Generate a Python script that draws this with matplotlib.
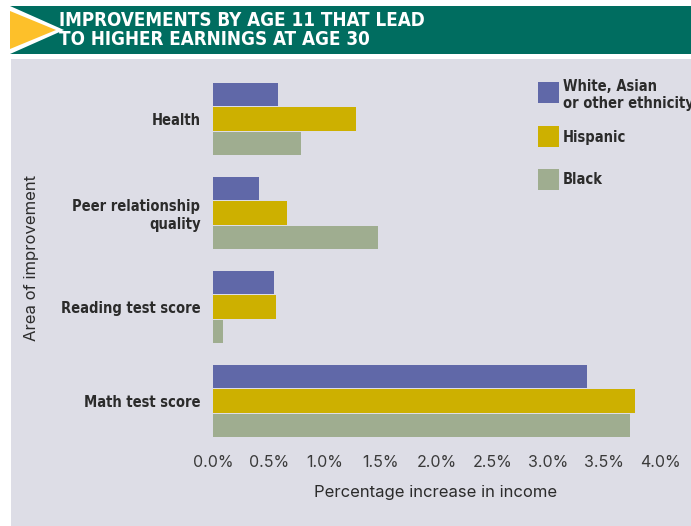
import os
import numpy as np
import matplotlib.pyplot as plt
import matplotlib.patheffects as pe
from matplotlib import font_manager
from matplotlib.font_manager import FontProperties
from matplotlib.patches import Rectangle, Polygon

# data (percent increase in income)
categories = ['Health', 'Peer relationship\nquality', 'Reading test score', 'Math test score']
groups = ['White, Asian\nor other ethnicity', 'Hispanic', 'Black']
white_asian = [0.58, 0.41, 0.55, 3.35]
hispanic = [1.28, 0.66, 0.56, 3.78]
black = [0.79, 1.48, 0.09, 3.73]
xticks = [0.0, 0.5, 1.0, 1.5, 2.0, 2.5, 3.0, 3.5, 4.0]

colors = ['#6068A8', '#CDB000', '#9FAD90']
bg = '#DDDDE6'
teal = '#006D60'
dark = '#2b2b2b'
tickfont = ['Inter', 'DejaVu Sans']


def _rank(fn):
    b = os.path.basename(fn).lower().replace('_', '').replace('-', '')
    cond = ('condensed' in b or 'narrow' in b) and not any(
        k in b for k in ('semicondensed', 'extracondensed', 'ultracondensed'))
    bold = 'bold' in b and not any(k in b for k in ('semibold', 'extrabold', 'ultrabold'))
    heavy = any(k in b for k in ('extrabold', 'black', 'semibold', 'medium'))
    plain = not any(k in b for k in ('italic', 'oblique', 'light', 'thin'))
    return (not cond, not plain, not bold, not heavy), bold


# find a condensed bold file; fall back to DejaVu Sans Bold
files = sorted({f.fname for f in font_manager.fontManager.ttflist})
best = min(files, key=lambda fn: _rank(fn)[0]) if files else None
if best is not None and not _rank(best)[0][0]:
    narrow_file = best
    embolden = 0.0 if _rank(best)[1] else 0.8
else:
    narrow_file = font_manager.findfont(FontProperties(family='DejaVu Sans', weight='bold'))
    embolden = 0.0


def nfp(size):
    return FontProperties(fname=narrow_file, size=size)


def fx(color):
    if embolden:
        return [pe.withStroke(linewidth=embolden, foreground=color)]
    return []


W, H = 691, 526
fig = plt.figure(figsize=(W / 100, H / 100), dpi=100)
fig.patch.set_facecolor('white')

# header band + gray panel
fig.patches.append(Rectangle((10 / W, 1 - 54 / H), 1, 48 / H, transform=fig.transFigure,
                             facecolor=teal, edgecolor='none', zorder=-3))
fig.patches.append(Polygon([(10 / W, 1 - 6 / H), (64 / W, 1 - 30 / H), (10 / W, 1 - 54 / H)],
                           closed=True, transform=fig.transFigure, facecolor='white',
                           edgecolor='none', zorder=-2))
fig.patches.append(Polygon([(10 / W, 1 - 11 / H), (56 / W, 1 - 30 / H), (10 / W, 1 - 49 / H)],
                           closed=True, transform=fig.transFigure, facecolor='#FDC02A',
                           edgecolor='none', zorder=-1))
fig.patches.append(Rectangle((11 / W, 0), 1, 1 - 59 / H, transform=fig.transFigure,
                             facecolor=bg, edgecolor='none', zorder=-3))

fig.text(59 / W, 1 - 30 / H, 'IMPROVEMENTS BY AGE 11 THAT LEAD\nTO HIGHER EARNINGS AT AGE 30',
         fontproperties=nfp(13.5), color='white', va='center', ha='left',
         linespacing=0.95, path_effects=fx('white'))

# plot area
ax = fig.add_axes([213 / W, 1 - 448 / H, (660 - 213) / W, (448 - 72) / H])
ax.set_facecolor('none')

y = np.arange(len(categories))[::-1]
h = 0.245
off = 0.26
for i, (vals, c) in enumerate(zip([white_asian, hispanic, black], colors)):
    ax.barh(y + off * (1 - i), vals, height=h, color=c, label=groups[i])

ax.set_xlim(0, 4)
ax.set_ylim(-0.5, 3.5)
ax.set_xticks(xticks)
ax.set_xticklabels([f'{v:.1f}%' for v in xticks], family=tickfont, fontsize=11.5, color='#3a3a3a')
ax.set_yticks(y)
ax.set_yticklabels(categories, color=dark)
for t in ax.get_yticklabels():
    t.set_fontproperties(nfp(10.5))
    t.set_path_effects(fx(dark))
ax.tick_params(length=0, axis='x', pad=5)
ax.tick_params(length=0, axis='y', pad=9)
for s in ax.spines.values():
    s.set_visible(False)

fig.text(436 / W, 1 - 493 / H, 'Percentage increase in income', family=tickfont,
         fontsize=12, color=dark, ha='center', va='center')
fig.text(32 / W, 1 - 258 / H, 'Area of improvement', family=tickfont, fontsize=12,
         color=dark, ha='center', va='center', rotation=90)

# legend: swatch top edges and label centres in pixels from the top
sw_top = [82, 126, 169]
lab_y = [95, 137, 179]
for c, g, t, ly in zip(colors, groups, sw_top, lab_y):
    fig.patches.append(Rectangle((538 / W, 1 - (t + 21) / H), 21 / W, 21 / H,
                                 transform=fig.transFigure, facecolor=c, edgecolor='none'))
    fig.text(563 / W, 1 - ly / H, g, fontproperties=nfp(10.5), color=dark,
             va='center', ha='left', linespacing=1.1, path_effects=fx(dark))

fig.savefig('out.png', dpi=100)
